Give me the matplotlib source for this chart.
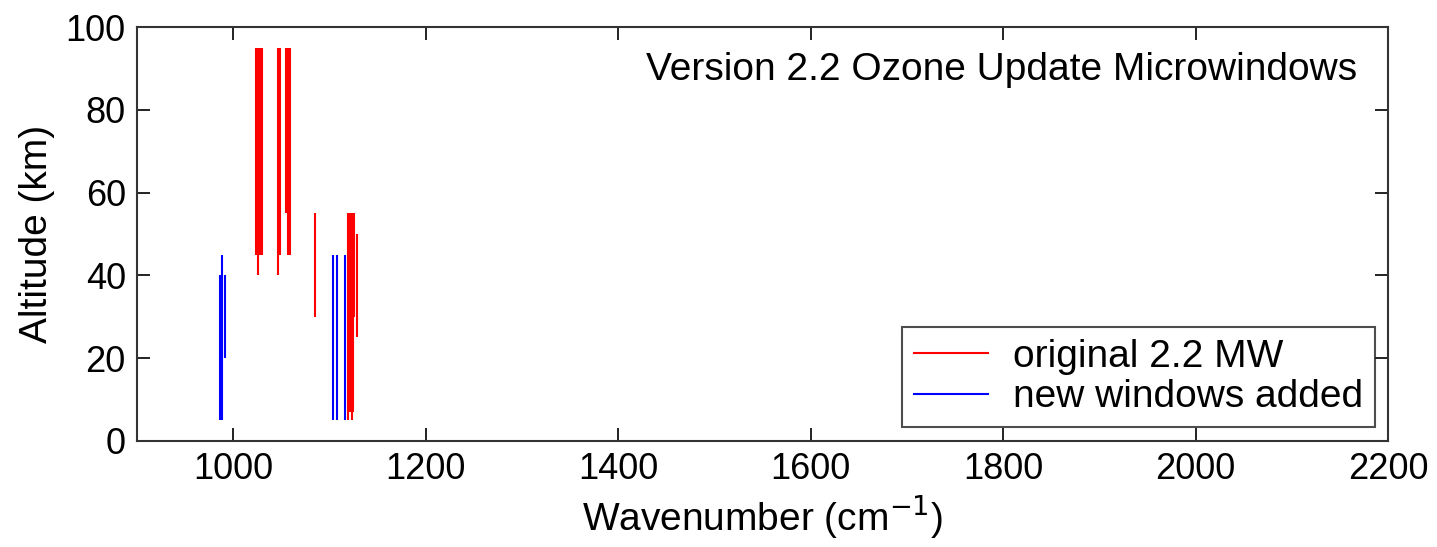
import matplotlib
matplotlib.use("Agg")
import matplotlib.pyplot as plt
from matplotlib.lines import Line2D

plt.rcParams['font.family'] = ['Liberation Sans', 'DejaVu Sans']

# Microwindows: wavenumber (cm^-1), bottom altitude (km), top altitude (km)
orig_wn = [1024, 1026, 1028, 1030, 1047, 1049, 1055, 1057, 1059, 1085,
           1119, 1121, 1123, 1125, 1126, 1129]
orig_bot = [45, 40, 45, 45, 40, 45, 55, 45, 45, 30,
            5, 7, 5, 7, 30, 25]
orig_top = [95, 95, 95, 95, 95, 95, 95, 95, 95, 55,
            55, 55, 55, 55, 55, 50]

new_wn = [986, 988, 992, 1104, 1108, 1116]
new_bot = [5, 5, 20, 5, 5, 5]
new_top = [40, 45, 40, 45, 45, 45]

title = "Version 2.2 Ozone Update Microwindows"
labels = ["original 2.2 MW", "new windows added"]
xticks = [1000, 1200, 1400, 1600, 1800, 2000, 2200]
yticks = [0, 20, 40, 60, 80, 100]

fig = plt.figure(figsize=(14.37, 5.47), dpi=100)
ax = fig.add_axes([0.0953, 0.1938, 0.8706, 0.7568])

ax.vlines(new_wn, new_bot, new_top, colors='#0000ff', linewidth=1.5)
ax.vlines(orig_wn, orig_bot, orig_top, colors='#ff0000', linewidth=1.5)

ax.set_xlim(900, 2200)
ax.set_ylim(0, 100)
ax.set_xticks(xticks)
ax.set_yticks(yticks)
ax.tick_params(direction='in', length=9.5, width=1.4, top=True, right=True,
               labelsize=26, pad=8, color='#222222')
for s in ax.spines.values():
    s.set_linewidth(1.5)
    s.set_color('#333333')

ax.set_xlabel("Wavenumber (cm$^{-1}$)", fontsize=28, labelpad=4)
ax.set_ylabel("Altitude (km)", fontsize=28, labelpad=8)

ax.text(0.975, 0.896, title, transform=ax.transAxes, ha='right', va='center',
        fontsize=28)

handles = [Line2D([0], [0], color='#ff0000', lw=1.5),
           Line2D([0], [0], color='#0000ff', lw=1.5)]
leg = ax.legend(handles, labels, loc='lower right', bbox_to_anchor=(0.9896, 0.034),
                borderaxespad=0, fontsize=28, frameon=True, fancybox=False,
                edgecolor='#222222', handlelength=1.9, handletextpad=0.65,
                borderpad=0.3, labelspacing=0.12)
leg.get_frame().set_linewidth(1.5)

fig.savefig("out.png", dpi=100)
